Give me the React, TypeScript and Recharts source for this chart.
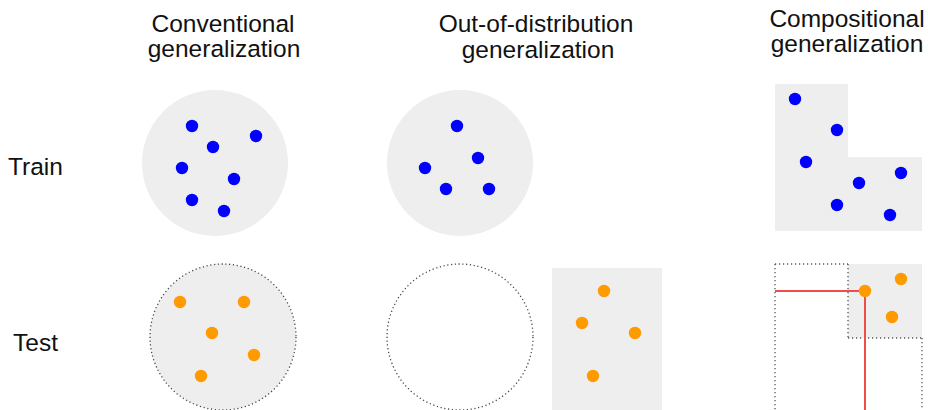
import { ReferenceArea, ReferenceLine, Scatter, ScatterChart, XAxis, YAxis } from 'recharts';

type Pt = { x: number; y: number };

// column titles and row labels
const columnTitles = [
  ['Conventional', 'generalization'],
  ['Out-of-distribution', 'generalization'],
  ['Compositional', 'generalization'],
];
const rowLabels = ['Train', 'Test'];

// sample points (pixel space, y down)
const convTrain: Pt[] = [
  { x: 192, y: 126 }, { x: 256, y: 136 }, { x: 213, y: 147 }, { x: 182, y: 168 },
  { x: 234, y: 179 }, { x: 192, y: 200 }, { x: 224, y: 211 },
];
const convTest: Pt[] = [
  { x: 180, y: 302 }, { x: 244, y: 302 }, { x: 212, y: 333 }, { x: 254, y: 355 }, { x: 201, y: 376 },
];
const oodTrain: Pt[] = [
  { x: 457, y: 126 }, { x: 478, y: 158 }, { x: 425, y: 168 }, { x: 446, y: 189 }, { x: 489, y: 189 },
];
const oodTest: Pt[] = [
  { x: 604, y: 291 }, { x: 582, y: 323 }, { x: 635, y: 333 }, { x: 593, y: 376 },
];
const compTrain: Pt[] = [
  { x: 795, y: 99 }, { x: 837, y: 130 }, { x: 806, y: 162 }, { x: 859, y: 183 },
  { x: 901, y: 173 }, { x: 837, y: 205 }, { x: 890, y: 215 },
];
const compTest: Pt[] = [{ x: 865, y: 291 }, { x: 901, y: 279 }, { x: 892, y: 317 }];

// region centres (circles) and boxes
const filledCircles: Pt[] = [{ x: 215, y: 163 }, { x: 460, y: 163 }];
const dottedFilledCircles: Pt[] = [{ x: 223, y: 337 }];
const dottedEmptyCircles: Pt[] = [{ x: 460, y: 337 }];

const FONT = '"Liberation Sans", Arial, Helvetica, sans-serif';
const BLUE = '#0000ff';
const ORANGE = '#ff9a00';
const GREY = '#eeeeee';
const RED = '#f24b4b';

const dot = (fill: string) => (p: any) => <circle cx={p.cx} cy={p.cy} r={6.2} fill={fill} />;
const region = (fill: string, dotted: boolean) => (p: any) => (
  <circle
    cx={p.cx}
    cy={p.cy}
    r={73}
    fill={fill}
    stroke={dotted ? '#444' : 'none'}
    strokeWidth={1.3}
    strokeDasharray={dotted ? '1.2 2.6' : undefined}
  />
);

const dotted = { stroke: '#555', strokeWidth: 1.3, strokeDasharray: '1.2 2.8' };

export default function App() {
  return (
    <div style={{ position: 'absolute', left: 0, top: 0, width: 928, height: 410, background: '#fff' }}>
      <ScatterChart width={928} height={410} margin={{ top: 0, right: 0, bottom: 0, left: 0 }}>
        <XAxis type="number" dataKey="x" domain={[0, 928]} hide />
        <YAxis type="number" dataKey="y" domain={[0, 410]} reversed hide />

        <Scatter data={filledCircles} shape={region(GREY, false)} isAnimationActive={false} />
        <Scatter data={dottedFilledCircles} shape={region(GREY, true)} isAnimationActive={false} />
        <Scatter data={dottedEmptyCircles} shape={region('#fff', true)} isAnimationActive={false} />

        <ReferenceArea x1={552} x2={662} y1={268} y2={410} fill={GREY} fillOpacity={1} stroke="none" />
        <ReferenceArea x1={775} x2={848} y1={84} y2={231} fill={GREY} fillOpacity={1} stroke="none" />
        <ReferenceArea x1={848} x2={922} y1={157} y2={231} fill={GREY} fillOpacity={1} stroke="none" />
        <ReferenceArea x1={848} x2={922} y1={264} y2={338} fill={GREY} fillOpacity={1} stroke="none" />

        <ReferenceLine segment={[{ x: 775, y: 264 }, { x: 848, y: 264 }]} {...dotted} />
        <ReferenceLine segment={[{ x: 775, y: 264 }, { x: 775, y: 410 }]} {...dotted} />
        <ReferenceLine segment={[{ x: 848, y: 264 }, { x: 848, y: 338 }]} {...dotted} />
        <ReferenceLine segment={[{ x: 848, y: 338 }, { x: 922, y: 338 }]} {...dotted} />
        <ReferenceLine segment={[{ x: 922, y: 338 }, { x: 922, y: 410 }]} {...dotted} />

        <ReferenceLine segment={[{ x: 775, y: 291 }, { x: 865, y: 291 }]} stroke={RED} strokeWidth={2} />
        <ReferenceLine segment={[{ x: 865, y: 291 }, { x: 865, y: 410 }]} stroke={RED} strokeWidth={2} />

        <Scatter data={convTrain} shape={dot(BLUE)} isAnimationActive={false} />
        <Scatter data={oodTrain} shape={dot(BLUE)} isAnimationActive={false} />
        <Scatter data={compTrain} shape={dot(BLUE)} isAnimationActive={false} />
        <Scatter data={convTest} shape={dot(ORANGE)} isAnimationActive={false} />
        <Scatter data={oodTest} shape={dot(ORANGE)} isAnimationActive={false} />
        <Scatter data={compTest} shape={dot(ORANGE)} isAnimationActive={false} />

        <g fontFamily={FONT} fontSize={24.5} fill="#111">
          <text x={223} y={32} textAnchor="middle">{columnTitles[0][0]}</text>
          <text x={224} y={57} textAnchor="middle">{columnTitles[0][1]}</text>
          <text x={536} y={32} textAnchor="middle">{columnTitles[1][0]}</text>
          <text x={538} y={57.5} textAnchor="middle">{columnTitles[1][1]}</text>
          <text x={847} y={27} textAnchor="middle">{columnTitles[2][0]}</text>
          <text x={847} y={52} textAnchor="middle">{columnTitles[2][1]}</text>
          <text x={8} y={175}>{rowLabels[0]}</text>
          <text x={13} y={351}>{rowLabels[1]}</text>
        </g>
      </ScatterChart>
    </div>
  );
}
